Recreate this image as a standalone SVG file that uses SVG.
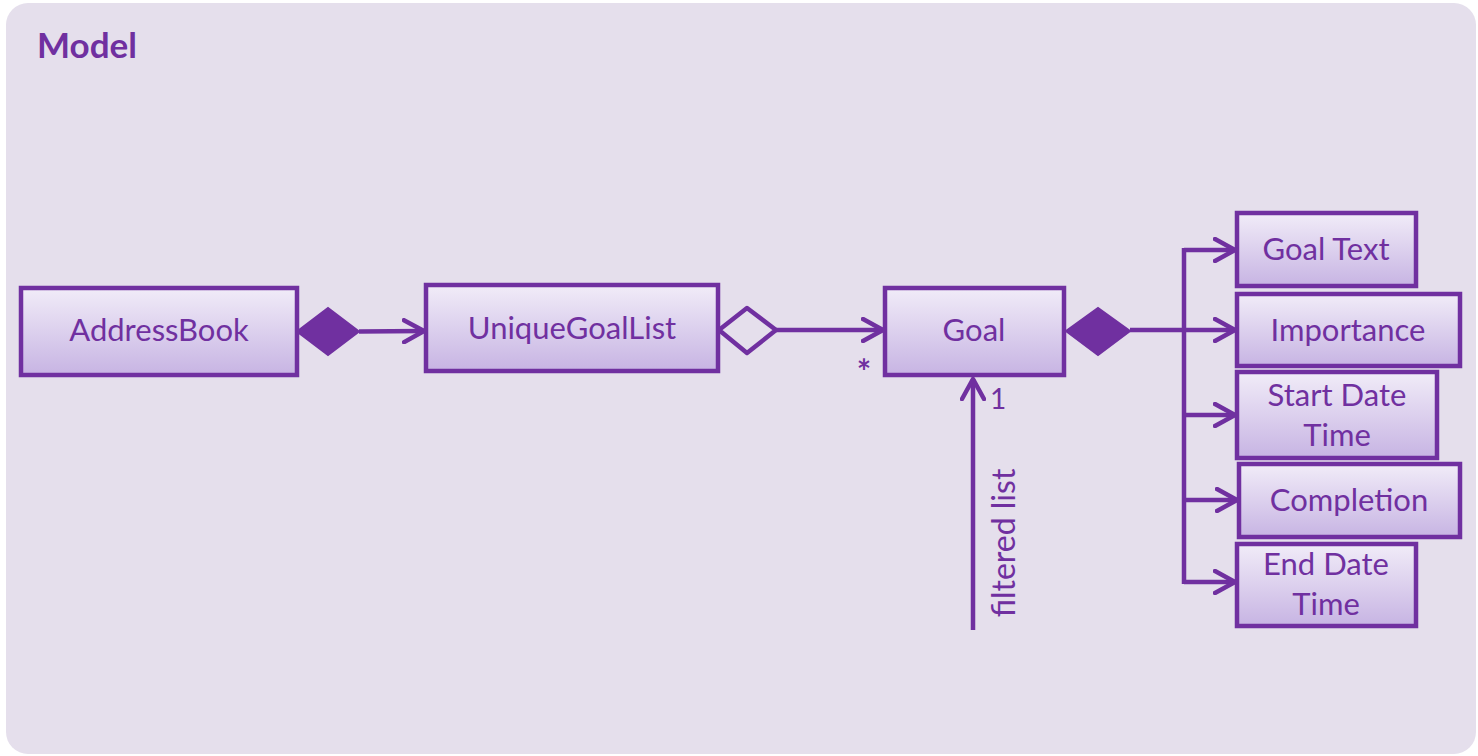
<svg xmlns="http://www.w3.org/2000/svg" width="1478" height="756" viewBox="0 0 1478 756">
<defs>
<linearGradient id="g" x1="0" y1="0" x2="0" y2="1">
<stop offset="0" stop-color="#F1ECF8"/>
<stop offset="1" stop-color="#C7B4E3"/>
</linearGradient>
<marker id="arr" viewBox="0 0 24 26" refX="22" refY="13" markerWidth="24" markerHeight="26" markerUnits="userSpaceOnUse" orient="auto">
<path d="M2,2 L22,13 L2,24" fill="none" stroke="#7030A0" stroke-width="4.5" stroke-linecap="round" stroke-linejoin="round"/>
</marker>
<style>
.box{fill:url(#g);stroke:#7030A0;stroke-width:4.5}
.lbl{font-family:Lato,"Open Sans",sans-serif;font-size:31px;fill:#7030A0;text-anchor:middle}
.ln{fill:none;stroke:#7030A0;stroke-width:4.5}
</style>
</defs>
<rect x="6" y="3" width="1470" height="751" rx="22" fill="#E5DFEC"/>
<text x="37" y="58" font-family="Lato,'Open Sans',sans-serif" font-weight="bold" font-size="35" fill="#7030A0">Model</text>
<g id="connectors">
<path d="M297,331.5 L328,308 L359,331.5 L328,355 Z" fill="#7030A0" stroke="#7030A0" stroke-width="2"/>
<line class="ln" x1="359" y1="331.5" x2="424" y2="331" marker-end="url(#arr)"/>
<path d="M719,330 L747,308 L776,330 L747,353 Z" fill="none" stroke="#7030A0" stroke-width="4.5" stroke-linejoin="round"/>
<line class="ln" x1="776" y1="330" x2="883" y2="330" marker-end="url(#arr)"/>
<text x="864" y="384" font-family="Lato,'Open Sans',sans-serif" font-weight="bold" font-size="34" fill="#7030A0" text-anchor="middle">*</text>
<path d="M1066,331 L1098,308 L1130,331 L1098,355 Z" fill="#7030A0" stroke="#7030A0" stroke-width="2"/>
<line class="ln" x1="1130" y1="330" x2="1184" y2="330" stroke-width="6"/>
<line class="ln" x1="1184" y1="248" x2="1184" y2="584"/>
<line class="ln" x1="1184" y1="250" x2="1235" y2="250" marker-end="url(#arr)"/>
<line class="ln" x1="1184" y1="330" x2="1235" y2="330" marker-end="url(#arr)"/>
<line class="ln" x1="1184" y1="415" x2="1235" y2="415" marker-end="url(#arr)"/>
<line class="ln" x1="1184" y1="500" x2="1237" y2="500" marker-end="url(#arr)"/>
<line class="ln" x1="1184" y1="582" x2="1235" y2="582" marker-end="url(#arr)"/>
<line class="ln" x1="973" y1="630" x2="973" y2="379" marker-end="url(#arr)"/>
<text x="998" y="409" font-family="Lato,'Open Sans',sans-serif" font-size="28" fill="#7030A0" text-anchor="middle">1</text>
<text transform="translate(1015,543) rotate(-90)" font-family="Lato,'Open Sans',sans-serif" font-size="32" fill="#7030A0" text-anchor="middle">filtered list</text>
</g>
<g id="addressbook"><rect class="box" x="21" y="288" width="276" height="87"/><text class="lbl" x="159" y="341">AddressBook</text></g>
<g id="uniquegoallist"><rect class="box" x="426" y="285" width="292" height="86"/><text class="lbl" x="572" y="339">UniqueGoalList</text></g>
<g id="goal"><rect class="box" x="885" y="288" width="179" height="87"/><text class="lbl" x="974" y="341">Goal</text></g>
<g id="goaltext"><rect class="box" x="1237" y="213" width="179" height="73"/><text class="lbl" x="1326" y="260">Goal Text</text></g>
<g id="importance"><rect class="box" x="1237" y="294" width="223" height="72"/><text class="lbl" x="1348" y="341">Importance</text></g>
<g id="startdatetime"><rect class="box" x="1237" y="372" width="200" height="86"/><text class="lbl" x="1337" y="406">Start Date</text><text class="lbl" x="1337" y="446">Time</text></g>
<g id="completion"><rect class="box" x="1239" y="464" width="221" height="73"/><text class="lbl" x="1349" y="511">Completion</text></g>
<g id="enddatetime"><rect class="box" x="1237" y="544" width="179" height="82"/><text class="lbl" x="1326" y="575">End Date</text><text class="lbl" x="1326" y="615">Time</text></g>
</svg>
